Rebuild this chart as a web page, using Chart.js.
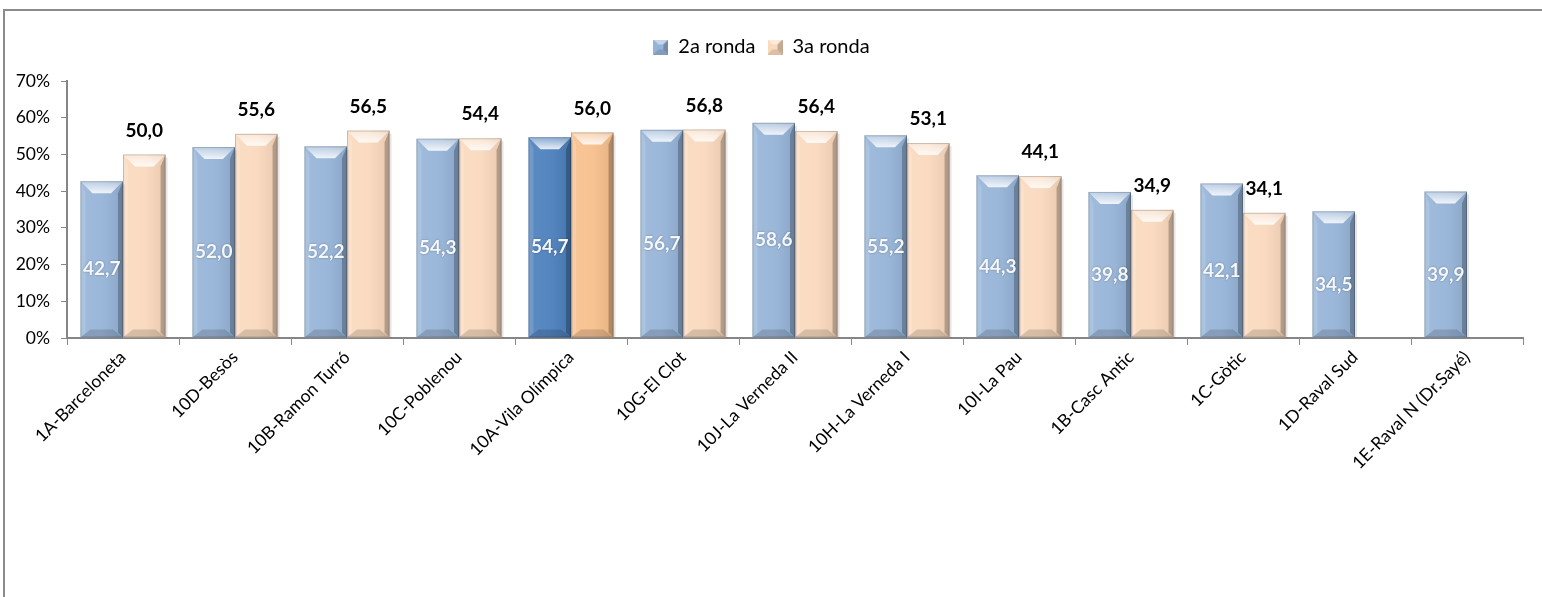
<!DOCTYPE html>
<html>
<head>
<meta charset="utf-8">
<script src="https://cdn.jsdelivr.net/npm/chart.js@4.4.1/dist/chart.umd.min.js"></script>
<style>
  html, body { margin: 0; padding: 0; background: #fff; }
  #wrap { width: 1542px; height: 597px; position: relative; }
</style>
</head>
<body>
<div id="wrap"><canvas id="chart" width="1542" height="597"></canvas></div>
<script>
const categories = [
  "1A-Barceloneta", "10D-Besòs", "10B-Ramon Turró", "10C-Poblenou", "10A-Vila Olímpica",
  "10G-El Clot", "10J-La Verneda II", "10H-La Verneda I", "10I-La Pau", "1B-Casc Antic",
  "1C-Gòtic", "1D-Raval Sud", "1E-Raval N (Dr.Sayé)"
];
const ronda2 = [42.7, 52.0, 52.2, 54.3, 54.7, 56.7, 58.6, 55.2, 44.3, 39.8, 42.1, 34.5, 39.9];
const ronda3 = [50.0, 55.6, 56.5, 54.4, 56.0, 56.8, 56.4, 53.1, 44.1, 34.9, 34.1, null, null];
const highlighted = 4; // 10A-Vila Olímpica
const yTicks = [0, 10, 20, 30, 40, 50, 60, 70];

const FONT = "Lato, 'Open Sans', sans-serif";
const blue = "#95B3D7", blueDark = "#4A7EBB";
const peach = "#FAD9BD", peachDark = "#F7BF8C";

function colorsFor(base, hi) {
  return categories.map((c, i) => (i === highlighted ? hi : base));
}

// small bevelled square for the legend
function legendBox(color) {
  const c = document.createElement("canvas");
  c.width = 15; c.height = 15;
  const g = c.getContext("2d");
  g.fillStyle = color; g.fillRect(0, 0, 15, 15);
  g.fillStyle = "rgba(255,255,255,0.45)";
  g.beginPath(); g.moveTo(0, 0); g.lineTo(15, 0); g.lineTo(10, 5); g.lineTo(5, 5); g.closePath(); g.fill();
  g.fillStyle = "rgba(0,0,0,0.22)";
  g.beginPath(); g.moveTo(15, 0); g.lineTo(15, 15); g.lineTo(10, 10); g.lineTo(10, 5); g.closePath(); g.fill();
  g.fillStyle = "rgba(0,0,0,0.12)";
  g.beginPath(); g.moveTo(0, 15); g.lineTo(15, 15); g.lineTo(10, 10); g.lineTo(5, 10); g.closePath(); g.fill();
  return c;
}

const framePlugin = {
  id: "frame",
  beforeDraw(chart) {
    const ctx = chart.ctx;
    ctx.save();
    ctx.strokeStyle = "#8c8c8c";
    ctx.lineWidth = 2;
    ctx.beginPath();
    ctx.moveTo(4, 597); ctx.lineTo(4, 10); ctx.lineTo(1542, 10);
    ctx.stroke();
    ctx.restore();
  }
};

// extra room between legend and plot
const legendGap = {
  id: "legendGap",
  beforeInit(chart) {
    const fit = chart.legend.fit;
    chart.legend.fit = function () {
      fit.bind(chart.legend)();
      this.height += 14;
    };
  }
};

// bevel look drawn over each bar
const bevelPlugin = {
  id: "bevel",
  afterDatasetsDraw(chart) {
    const ctx = chart.ctx;
    chart.data.datasets.forEach((ds, di) => {
      chart.getDatasetMeta(di).data.forEach((bar, i) => {
        if (ds.data[i] == null) return;
        const L = bar.x - bar.width / 2, R = bar.x + bar.width / 2;
        const T = bar.y, B = bar.base;
        const b = 12;
        ctx.save();
        // soft shadow on right side
        ctx.fillStyle = "rgba(0,0,0,0.10)";
        ctx.fillRect(R, T + 3, 2, B - T - 3);
        // body gradient
        const gr = ctx.createLinearGradient(L, 0, R, 0);
        gr.addColorStop(0, "rgba(255,255,255,0.10)");
        gr.addColorStop(0.5, "rgba(255,255,255,0.06)");
        gr.addColorStop(1, "rgba(0,0,0,0.08)");
        ctx.fillStyle = gr;
        ctx.fillRect(L, T, R - L, B - T);
        // top
        const gt = ctx.createLinearGradient(0, T, 0, T + b);
        gt.addColorStop(0, "rgba(255,255,255,0.30)");
        gt.addColorStop(1, "rgba(255,255,255,0.85)");
        ctx.fillStyle = gt;
        ctx.beginPath();
        ctx.moveTo(L, T); ctx.lineTo(R, T); ctx.lineTo(R - b, T + b); ctx.lineTo(L + b, T + b);
        ctx.closePath(); ctx.fill();
        // left
        ctx.fillStyle = "rgba(255,255,255,0.14)";
        ctx.beginPath();
        ctx.moveTo(L, T); ctx.lineTo(L + 5, T + b); ctx.lineTo(L + 5, B - 5); ctx.lineTo(L, B);
        ctx.closePath(); ctx.fill();
        // right
        ctx.fillStyle = "rgba(0,0,0,0.24)";
        ctx.beginPath();
        ctx.moveTo(R, T); ctx.lineTo(R - 5, T + b); ctx.lineTo(R - 5, B - 5); ctx.lineTo(R, B);
        ctx.closePath(); ctx.fill();
        // bottom
        ctx.fillStyle = "rgba(0,0,0,0.14)";
        ctx.beginPath();
        ctx.moveTo(L, B); ctx.lineTo(R, B); ctx.lineTo(R - 10, B - 8); ctx.lineTo(L + 10, B - 8);
        ctx.closePath(); ctx.fill();
        // outline
        ctx.strokeStyle = "rgba(0,0,0,0.18)";
        ctx.lineWidth = 1;
        ctx.strokeRect(L + 0.5, T + 0.5, R - L - 1, B - T - 1);
        ctx.restore();
      });
    });
  }
};

const labelPlugin = {
  id: "valueLabels",
  afterDatasetsDraw(chart) {
    const ctx = chart.ctx;
    ctx.save();
    ctx.textAlign = "center";
    ctx.textBaseline = "middle";
    ctx.font = "bold 19px " + FONT;
    chart.data.datasets.forEach((ds, di) => {
      chart.getDatasetMeta(di).data.forEach((bar, i) => {
        const v = ds.data[i];
        if (v == null) return;
        const txt = v.toFixed(1).replace(".", ",");
        if (di === 0) {
          ctx.shadowColor = "rgba(0,0,0,0.35)";
          ctx.shadowBlur = 2;
          ctx.fillStyle = "#f4f7fb";
          ctx.fillText(txt, bar.x, (bar.y + bar.base) / 2 + 10);
          ctx.shadowBlur = 0;
          ctx.shadowColor = "transparent";
        } else {
          ctx.fillStyle = "#000000";
          ctx.fillText(txt, bar.x, bar.y - 24);
        }
      });
    });
    ctx.restore();
  }
};

new Chart(document.getElementById("chart"), {
  type: "bar",
  data: {
    labels: categories,
    datasets: [
      { label: "2a ronda", data: ronda2, backgroundColor: colorsFor(blue, blueDark), pointStyle: legendBox(blue) },
      { label: "3a ronda", data: ronda3, backgroundColor: colorsFor(peach, peachDark), pointStyle: legendBox(peach) }
    ]
  },
  options: {
    responsive: false,
    animation: false,
    events: [],
    layout: { padding: { left: 0, right: 19, top: 25, bottom: 0 } },
    datasets: { bar: { categoryPercentage: 0.76, barPercentage: 1.0 } },
    plugins: {
      tooltip: { enabled: false },
      legend: {
        position: "top",
        labels: {
          usePointStyle: true,
          boxWidth: 15, boxHeight: 15,
          padding: 12,
          color: "#000",
          font: { family: FONT, size: 20 }
        }
      }
    },
    scales: {
      x: {
        grid: { offset: true, drawOnChartArea: false, tickLength: 7, color: "#868686" },
        border: { color: "#868686", width: 2 },
        ticks: {
          minRotation: 45, maxRotation: 45, autoSkip: false,
          color: "#000", padding: 2,
          font: { family: FONT, size: 17.5 }
        },
        afterFit(scale) { scale.height = 259; }
      },
      y: {
        min: 0, max: 70,
        afterBuildTicks(scale) { scale.ticks = yTicks.map(v => ({ value: v })); },
        grid: { drawOnChartArea: false, tickLength: 6, color: "#868686" },
        border: { color: "#868686", width: 2 },
        ticks: {
          color: "#000", padding: 11,
          font: { family: FONT, size: 17.5 },
          callback: v => v + "%"
        },
        afterFit(scale) { scale.width = 67; }
      }
    }
  },
  plugins: [framePlugin, legendGap, bevelPlugin, labelPlugin]
});
</script>
</body>
</html>
